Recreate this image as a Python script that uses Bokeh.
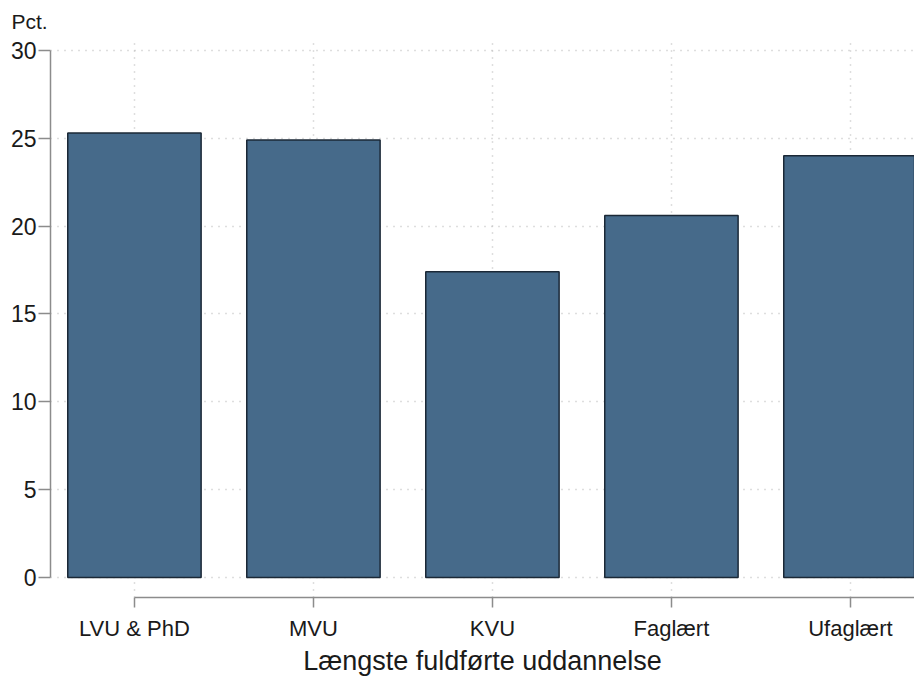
from bokeh.plotting import figure
from bokeh.models import Range1d, FixedTicker, Title
from bokeh.embed import file_html
from bokeh.resources import INLINE

categories = ["LVU & PhD", "MVU", "KVU", "Faglært", "Ufaglært"]
values = [25.3, 24.9, 17.4, 20.6, 24.0]
y_ticks = [0, 5, 10, 15, 20, 25, 30]

xs = list(range(len(categories)))
FONT = "Liberation Sans"

p = figure(width=914, height=678, output_backend="svg", toolbar_location=None,
           x_range=Range1d(-0.469, 4.358), y_range=Range1d(-1.14, 30.68),
           min_border_left=50, min_border_right=0, min_border_top=38, min_border_bottom=80)
p.outline_line_color = None
p.background_fill_color = "white"

p.vbar(x=xs, top=values, bottom=0, width=0.745, fill_color="#466a8a",
       line_color="#1b2836", line_width=1.5)

# grids
p.xgrid.ticker = FixedTicker(ticks=xs)
p.ygrid.ticker = FixedTicker(ticks=y_ticks)
for g in (p.xgrid, p.ygrid):
    g.grid_line_color = "#bdbdbd"
    g.grid_line_dash = "1 6"
    g.grid_line_width = 1.5

# x axis
p.xaxis.ticker = FixedTicker(ticks=xs)
p.xaxis.major_label_overrides = {i: c for i, c in enumerate(categories)}
p.xaxis.bounds = (0, 5)
p.xaxis.axis_line_color = "#8c8c8c"
p.xaxis.axis_line_width = 1.5
p.xaxis.major_tick_line_color = "#8c8c8c"
p.xaxis.major_tick_line_width = 1.5
p.xaxis.major_tick_out = 10
p.xaxis.major_tick_in = 0
p.xaxis.minor_tick_line_color = None
p.xaxis.major_label_standoff = 8
p.xaxis.major_label_text_font = FONT
p.xaxis.major_label_text_font_size = "22px"
p.xaxis.major_label_text_color = "#1a1a1a"
p.xaxis.axis_label = "Længste fuldførte uddannelse"
p.xaxis.axis_label_text_font = FONT
p.xaxis.axis_label_text_font_style = "normal"
p.xaxis.axis_label_text_font_size = "27px"
p.xaxis.axis_label_text_color = "#1a1a1a"
p.xaxis.axis_label_standoff = 2

# y axis
p.yaxis.ticker = FixedTicker(ticks=y_ticks)
p.yaxis.bounds = (0, 30)
p.yaxis.axis_line_color = "#8c8c8c"
p.yaxis.axis_line_width = 1.5
p.yaxis.major_tick_line_color = "#8c8c8c"
p.yaxis.major_tick_line_width = 1.5
p.yaxis.major_tick_out = 12
p.yaxis.major_tick_in = 0
p.yaxis.minor_tick_line_color = None
p.yaxis.major_label_standoff = 2
p.yaxis.major_label_text_font = FONT
p.yaxis.major_label_text_font_size = "23px"
p.yaxis.major_label_text_color = "#1a1a1a"

p.title = Title(text="Pct.", align="left", offset=-39, standoff=11,
                text_font=FONT, text_font_size="21px", text_font_style="normal",
                text_color="#1a1a1a")

open("out.html", "w").write(file_html(p, INLINE))
